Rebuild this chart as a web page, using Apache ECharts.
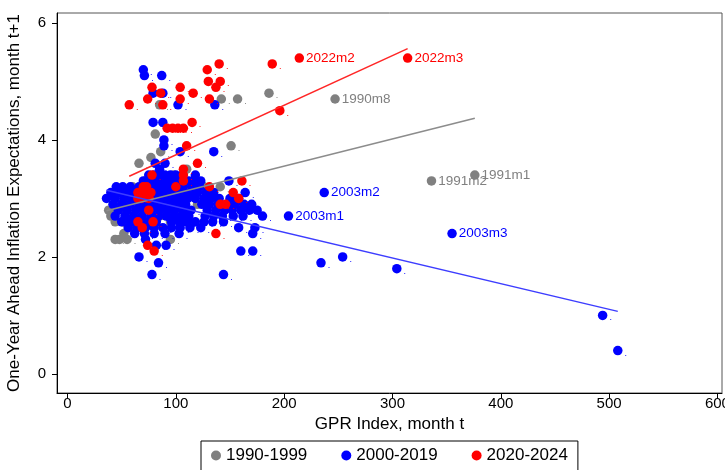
<!DOCTYPE html>
<html><head><meta charset="utf-8">
<script src="https://cdn.jsdelivr.net/npm/echarts@6/dist/echarts.min.js"></script>
<style>html,body{margin:0;padding:0;background:#fff}#c{width:725px;height:470px}</style>
</head><body><div id="c"></div>
<script>
const seriesNames = ['1990-1999', '2000-2019', '2020-2024'];
const xTicks = [0, 100, 200, 300, 400, 500, 600];
const yTicks = [0, 2, 4, 6];

// [GPR index month t, inflation expectation month t+1]
const grayPoints = [
  [40,2.7],[44,2.6],[44,2.3],[52,2.4],[51,2.6],[55,2.3],[48,2.3],[95,2.3],[40,2.8],[38,2.8],
  [46,2.9],[52,2.8],[60,2.7],[65,2.5],[58,2.5],[70,2.6],[75,2.8],[62,3.0],[68,3.1],[80,2.9],
  [90,3.0],[100,3.1],[85,2.7],[110,3.0],[95,2.6],[120,2.9],[105,2.8],[115,3.2],[130,3.1],[72,3.3],
  [90,3.2],[98,3.4],[60,3.2],[55,3.0],[77,3.7],[66,3.6],[81,4.1],[86,3.8],[151,3.9],[110,3.5],
  [126,3.2],[141,3.2],[142,4.7],[157,4.7],[186,4.8],[85,4.6]
];
const grayLabeled = [[247,4.7,'1990m8'],[336,3.3,'1991m2'],[376,3.4,'1991m1']];

const bluePoints = [
  [75,3.4],[80,3.4],[85,3.4],[90,3.4],[95,3.4],[100,3.4],[106,3.4],[118,3.4],
  [70,3.3],[78,3.3],[84,3.3],[92,3.3],[98,3.3],[104,3.3],[112,3.3],[117,3.3],[123,3.3],[149,3.3],
  [45,3.2],[51,3.2],[58,3.2],[66,3.2],[74,3.2],[82,3.2],[88,3.2],[94,3.2],[100,3.2],[107,3.2],[115,3.2],[122,3.2],
  [40,3.1],[48,3.1],[56,3.1],[63,3.1],[71,3.1],[79,3.1],[86,3.1],[93,3.1],[99,3.1],[106,3.1],[113,3.1],[120,3.1],[128,3.1],[135,3.1],[164,3.1],
  [36,3.0],[44,3.0],[52,3.0],[60,3.0],[68,3.0],[76,3.0],[83,3.0],[90,3.0],[97,3.0],[104,3.0],[111,3.0],[118,3.0],[126,3.0],[133,3.0],[140,3.0],[150,3.0],[158,3.0],
  [42,2.9],[50,2.9],[58,2.9],[66,2.9],[73,2.9],[81,2.9],[88,2.9],[95,2.9],[102,2.9],[109,2.9],[124,2.9],[131,2.9],[139,2.9],[147,2.9],[155,2.9],[163,2.9],[170,2.9],
  [47,2.8],[55,2.8],[63,2.8],[70,2.8],[78,2.8],[85,2.8],[92,2.8],[99,2.8],[107,2.8],[114,2.8],[129,2.8],[137,2.8],[145,2.8],[152,2.8],[160,2.8],[168,2.8],[175,2.8],
  [44,2.7],[53,2.7],[61,2.7],[69,2.7],[77,2.7],[84,2.7],[91,2.7],[98,2.7],[105,2.7],[112,2.7],[127,2.7],[135,2.7],[143,2.7],[153,2.7],[162,2.7],[180,2.7],
  [50,2.6],[58,2.6],[66,2.6],[74,2.6],[82,2.6],[96,2.6],[103,2.6],[110,2.6],[118,2.6],[126,2.6],[134,2.6],[144,2.6],
  [56,2.5],[64,2.5],[72,2.5],[80,2.5],[88,2.5],[96,2.5],[104,2.5],[113,2.5],[123,2.5],[158,2.5],[173,2.5],
  [62,2.4],[71,2.4],[80,2.4],[90,2.4],[103,2.4],[171,2.4],
  [72,2.3],[82,2.2],[91,2.2],[66,2.0],[84,1.9],[78,1.7],[144,1.7],[160,2.1],[171,2.1],
  [70,5.2],[71,5.1],[87,5.1],[79,4.8],[88,4.8],[102,4.6],[136,4.6],[79,4.3],[88,4.3],[89,4.0],
  [89,3.9],[104,3.8],[135,3.8],[81,3.6],[90,3.6],[85,3.5],
  [234,1.9],[254,2.0],[304,1.8],[494,1.0],[508,0.4]
];
const blueLabeled = [[204,2.7,'2003m1'],[237,3.1,'2003m2'],[355,2.4,'2003m3']];

const redPoints = [
  [189,5.3],[196,4.5],[57,4.6],[140,5.3],[129,5.2],[130,5.0],[141,5.0],[137,4.9],[116,4.8],[104,4.9],
  [104,4.7],[131,4.7],[78,4.9],[86,4.8],[74,4.7],[88,4.6],
  [92,4.2],[97,4.2],[102,4.2],[107,4.2],[115,4.3],[110,3.9],[120,3.6],[107,3.5],[78,3.4],[107,3.4],
  [107,3.3],[100,3.2],[131,3.2],[161,3.3],[153,3.1],[158,3.0],[141,2.9],[146,2.9],[137,2.4],[70,3.2],
  [65,3.1],[65,3.0],[75,3.0],[72,3.1],[68,3.0],[73,3.2],[77,3.1],[75,2.8],[65,2.6],[79,2.6],
  [69,2.5],[74,2.2],[80,2.1]
];
const redLabeled = [[214,5.4,'2022m2'],[314,5.4,'2022m3']];

// linear fit endpoints
const grayFit = [[36,2.79],[376,4.37]];
const blueFit = [[36,3.14],[508,1.07]];
const redFit = [[57,3.38],[314,5.56]];

const colors = ['#808080', '#0000ff', '#ff0000'];
const fitColors = ['#8c8c8c', '#3d3dff', '#ff2626'];
const FONT = 'Liberation Sans, Arial, Helvetica, sans-serif';

function buildData(pts, labeled) {
  return pts.map(p => ({ value: [p[0], p[1]], name: '' }))
    .concat(labeled.map(p => ({ value: [p[0], p[1]], name: p[2] })));
}

function scatter(i, pts, labeled) {
  return {
    type: 'scatter', name: seriesNames[i], data: buildData(pts, labeled),
    symbol: 'circle', symbolSize: 9.5,
    itemStyle: { color: colors[i], opacity: 1 },
    label: {
      show: true, position: 'right', distance: 2, color: colors[i], fontFamily: FONT,
      formatter: p => p.name ? '{n|' + p.name + '}' : '{d|.}',
      rich: { n: { fontSize: 13.5, color: colors[i], fontFamily: FONT }, d: { fontSize: 9, color: colors[i], padding: [5, 0, 0, 0] } }
    },
    emphasis: { disabled: true }, z: 2 + i
  };
}
function fit(i, pts) {
  return {
    type: 'line', name: 'fit' + i, data: pts, symbol: 'none', silent: true,
    lineStyle: { color: fitColors[i], width: 1.5 }, z: 6
  };
}

const chart = echarts.init(document.getElementById('c'), null, { renderer: 'canvas' });
chart.setOption({
  animation: false,
  backgroundColor: '#fff',
  grid: { left: 57, right: 3, top: 13, bottom: 77, outerBoundsMode: 'none', containLabel: false,
    show: true, borderColor: '#555', borderWidth: 1, backgroundColor: '#fff' },
  legend: {
    data: seriesNames, left: 201, top: 441, icon: 'circle', itemWidth: 10, itemHeight: 10, itemGap: 34,
    padding: [6, 10, 8, 10], borderColor: '#000', borderWidth: 1, borderRadius: 0, backgroundColor: '#fff',
    textStyle: { fontSize: 17, color: '#000', fontFamily: FONT }
  },
  xAxis: {
    type: 'value', min: -9.7, max: 604.2,
    name: 'GPR Index, month t', nameLocation: 'middle', nameGap: 23,
    nameTextStyle: { fontSize: 17, color: '#000', fontFamily: FONT },
    axisLine: { show: true, onZero: false, lineStyle: { color: '#000', width: 1 } },
    axisTick: { show: true, length: 5, lineStyle: { color: '#000' }, customValues: xTicks },
    axisLabel: { fontSize: 15, color: '#000', fontFamily: FONT, margin: 3, customValues: xTicks },
    splitLine: { show: false }
  },
  yAxis: {
    type: 'value', min: -0.325, max: 6.17,
    name: 'One-Year Ahead Inflation Expectations, month t+1', nameLocation: 'middle', nameGap: 34,
    nameTextStyle: { fontSize: 17, color: '#000', fontFamily: FONT },
    axisLine: { show: true, onZero: false, lineStyle: { color: '#000', width: 1 } },
    axisTick: { show: true, length: 5, lineStyle: { color: '#000' }, customValues: yTicks },
    axisLabel: { fontSize: 15, color: '#000', fontFamily: FONT, margin: 11, customValues: yTicks },
    splitLine: { show: false }
  },
  series: [
    scatter(0, grayPoints, grayLabeled),
    scatter(1, bluePoints, blueLabeled),
    scatter(2, redPoints, redLabeled),
    fit(0, grayFit), fit(1, blueFit), fit(2, redFit)
  ]
});
</script></body></html>
